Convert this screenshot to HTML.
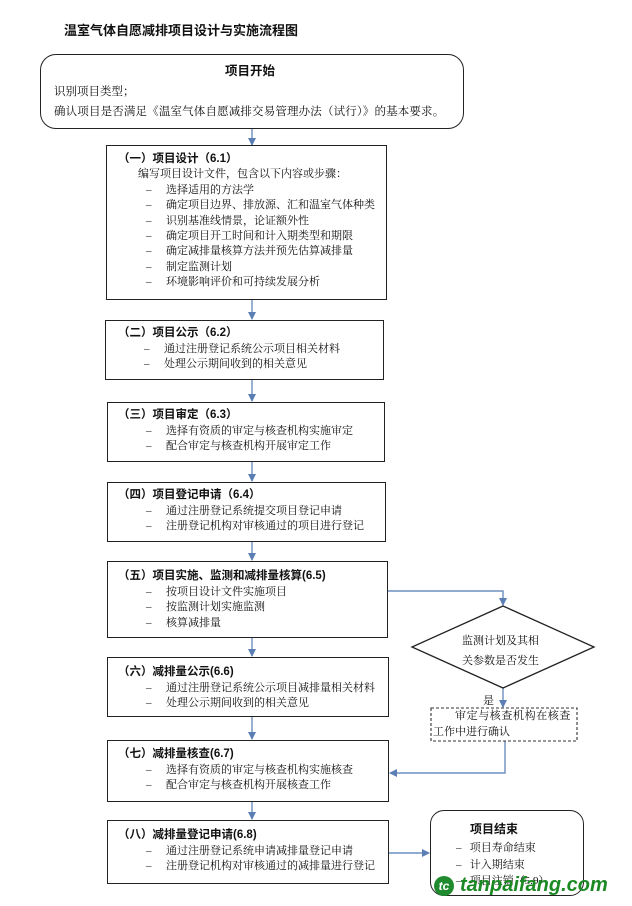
<!DOCTYPE html>
<html><head><meta charset="utf-8"><style>
body{margin:0;width:632px;height:906px;background:#fff;position:relative;overflow:hidden;font-family:"Liberation Serif","Noto Serif CJK SC",serif;color:#111;}
.b{position:absolute;border:1.3px solid #222;box-sizing:border-box;background:#fff;font-size:11px;}
.t{position:absolute;white-space:nowrap;font-size:11px;line-height:15.5px;}
.h{font-weight:bold;font-family:"Liberation Sans","Noto Sans CJK SC",sans-serif;font-size:11.5px;}
.d{display:inline-block;width:20px;padding-left:8px;}
svg{position:absolute;left:0;top:0;}
</style></head><body>
<svg width="632" height="906">
<defs><marker id="a" markerWidth="8" markerHeight="8" refX="7" refY="4" orient="auto" markerUnits="userSpaceOnUse"><path d="M0,0 L8,4 L0,8 z" fill="#5b7fb5"/></marker></defs>
<g stroke="#6f8fc0" stroke-width="1.4" fill="none">
<line x1="252" y1="129" x2="252" y2="145" marker-end="url(#a)"/>
<line x1="252" y1="300" x2="252" y2="319" marker-end="url(#a)"/>
<line x1="252" y1="380" x2="252" y2="401" marker-end="url(#a)"/>
<line x1="252" y1="462" x2="252" y2="481" marker-end="url(#a)"/>
<line x1="252" y1="542" x2="252" y2="560" marker-end="url(#a)"/>
<line x1="252" y1="638" x2="252" y2="656" marker-end="url(#a)"/>
<line x1="252" y1="717" x2="252" y2="739" marker-end="url(#a)"/>
<line x1="252" y1="802" x2="252" y2="819" marker-end="url(#a)"/>
<polyline points="388,591 503,591 503,605" marker-end="url(#a)"/>
<line x1="503" y1="688" x2="503" y2="707" marker-end="url(#a)"/>
<polyline points="505,741 505,773 390,773" marker-end="url(#a)"/>
<line x1="389" y1="853" x2="429" y2="853" marker-end="url(#a)"/>
</g>
<polygon points="503,606 594,647 503,688 412,647" fill="#fff" stroke="#222" stroke-width="1.3"/>
<rect x="431" y="708" width="146" height="33" fill="#fff" stroke="#333" stroke-width="1.1" stroke-dasharray="3,2"/>
</svg>
<div class="t h" style="left:64px;top:23px;font-size:13px;">温室气体自愿减排项目设计与实施流程图</div>
<div class="b" style="left:40px;top:54px;width:424px;height:75px;border-radius:16px;"></div>
<div class="t h" style="left:225px;top:64px;font-size:12.5px;">项目开始</div>
<div class="t" style="left:54px;top:85px;font-size:11.5px;">识别项目类型；</div>
<div class="t" style="left:54px;top:105px;font-size:11.5px;letter-spacing:0.15px;">确认项目是否满足《温室气体自愿减排交易管理办法（试行）》的基本要求。</div>

<div class="b" style="left:106px;top:145px;width:281px;height:155px;"></div>
<div class="t" style="left:118px;top:152px;line-height:15.4px;"><span class="h">（一）项目设计（6.1）</span><br><span style="padding-left:20px">编写项目设计文件，包含以下内容或步骤：</span><br>
<span class="d" style="padding-left:28px">–</span>选择适用的方法学<br>
<span class="d" style="padding-left:28px">–</span>确定项目边界、排放源、汇和温室气体种类<br>
<span class="d" style="padding-left:28px">–</span>识别基准线情景，论证额外性<br>
<span class="d" style="padding-left:28px">–</span>确定项目开工时间和计入期类型和期限<br>
<span class="d" style="padding-left:28px">–</span>确定减排量核算方法并预先估算减排量<br>
<span class="d" style="padding-left:28px">–</span>制定监测计划<br>
<span class="d" style="padding-left:28px">–</span>环境影响评价和可持续发展分析</div>

<div class="b" style="left:105px;top:320px;width:279px;height:60px;"></div>
<div class="t" style="left:118px;top:326px;"><span class="h">（二）项目公示（6.2）</span><br><span class="d" style="padding-left:26px">–</span>通过注册登记系统公示项目相关材料<br><span class="d" style="padding-left:26px">–</span>处理公示期间收到的相关意见</div>

<div class="b" style="left:107px;top:402px;width:278px;height:60px;"></div>
<div class="t" style="left:118px;top:408px;"><span class="h">（三）项目审定（6.3）</span><br><span class="d" style="padding-left:28px">–</span>选择有资质的审定与核查机构实施审定<br><span class="d" style="padding-left:28px">–</span>配合审定与核查机构开展审定工作</div>

<div class="b" style="left:107px;top:482px;width:279px;height:60px;"></div>
<div class="t" style="left:118px;top:488px;"><span class="h">（四）项目登记申请（6.4）</span><br><span class="d" style="padding-left:28px">–</span>通过注册登记系统提交项目登记申请<br><span class="d" style="padding-left:28px">–</span>注册登记机构对审核通过的项目进行登记</div>

<div class="b" style="left:107px;top:561px;width:281px;height:77px;"></div>
<div class="t" style="left:118px;top:569px;"><span class="h">（五）项目实施、监测和减排量核算(6.5)</span><br><span class="d" style="padding-left:28px">–</span>按项目设计文件实施项目<br><span class="d" style="padding-left:28px">–</span>按监测计划实施监测<br><span class="d" style="padding-left:28px">–</span>核算减排量</div>

<div class="b" style="left:107px;top:657px;width:282px;height:60px;"></div>
<div class="t" style="left:118px;top:665px;"><span class="h">（六）减排量公示(6.6)</span><br><span class="d" style="padding-left:28px">–</span>通过注册登记系统公示项目减排量相关材料<br><span class="d" style="padding-left:28px">–</span>处理公示期间收到的相关意见</div>

<div class="b" style="left:107px;top:740px;width:282px;height:62px;"></div>
<div class="t" style="left:118px;top:747px;"><span class="h">（七）减排量核查(6.7)</span><br><span class="d" style="padding-left:28px">–</span>选择有资质的审定与核查机构实施核查<br><span class="d" style="padding-left:28px">–</span>配合审定与核查机构开展核查工作</div>

<div class="b" style="left:107px;top:820px;width:282px;height:64px;"></div>
<div class="t" style="left:118px;top:828px;"><span class="h">（八）减排量登记申请(6.8)</span><br><span class="d" style="padding-left:28px">–</span>通过注册登记系统申请减排量登记申请<br><span class="d" style="padding-left:28px">–</span>注册登记机构对审核通过的减排量进行登记</div>

<div class="t" style="left:462px;top:631px;line-height:20px;">监测计划及其相<br>关参数是否发生</div>
<div class="t" style="left:483px;top:694px;">是</div>
<div class="t" style="left:433px;top:709px;line-height:15.5px;"><span style="padding-left:22px;letter-spacing:0.6px">审定与核查机构在核查</span><br>工作中进行确认</div>

<div class="b" style="left:430px;top:810px;width:154px;height:86px;border-radius:14px;"></div>
<div class="t" style="left:470px;top:821px;line-height:17px;"><span class="h" style="font-size:12px">项目结束</span></div>
<div class="t" style="left:456px;top:840px;line-height:16.5px;">–&nbsp;&nbsp;&nbsp;项目寿命结束<br>–&nbsp;&nbsp;&nbsp;计入期结束<br>–&nbsp;&nbsp;&nbsp;项目注销（5.9）</div>
<div style="position:absolute;left:434px;top:876px;width:20px;height:20px;border-radius:50%;background:#1f8a2e;color:#fff;font:bold italic 12px 'Liberation Sans',sans-serif;text-align:center;line-height:20px;">tc</div>
<div class="t" style="left:460px;top:872px;font:bold italic 20px 'Liberation Sans',sans-serif;color:#1c8a24;line-height:26px;">tanpaifang.com</div>
</body></html>
